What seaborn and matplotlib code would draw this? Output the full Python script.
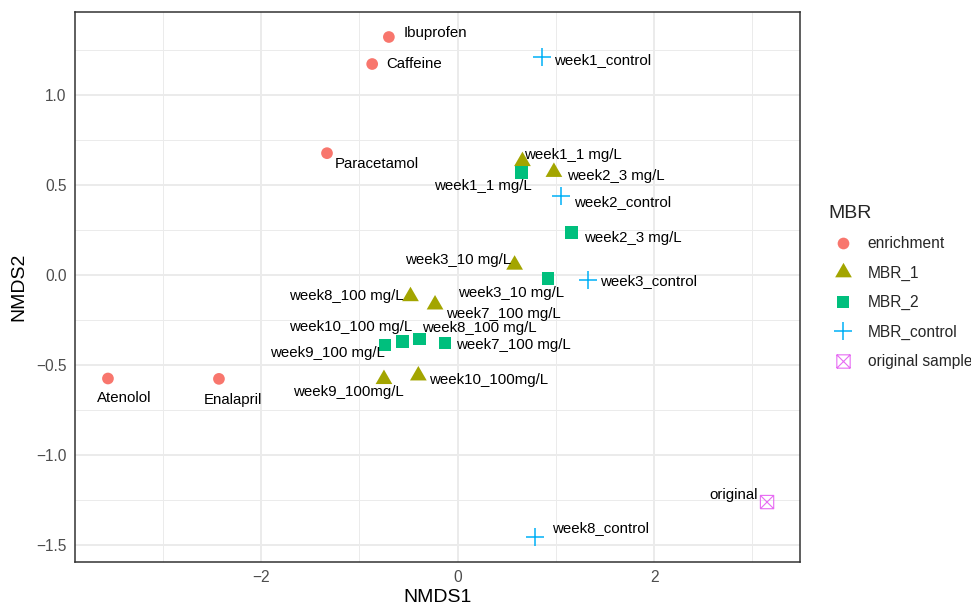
import matplotlib

matplotlib.use("Agg")
import matplotlib.pyplot as plt
import numpy as np
import pandas as pd
import seaborn as sns
from matplotlib.lines import Line2D
from matplotlib.markers import MarkerStyle
from matplotlib.path import Path
from matplotlib.ticker import FixedLocator

# --- data ---
groups = ["enrichment", "MBR_1", "MBR_2", "MBR_control", "original sample"]
colors = ["#F8766D", "#A3A500", "#00BF7D", "#00B0F6", "#E76BF3"]

enrich_names = ["Ibuprofen", "Caffeine", "Paracetamol", "Atenolol", "Enalapril"]
enrich_x = [-0.70, -0.87, -1.33, -3.56, -2.43]
enrich_y = [1.32, 1.17, 0.675, -0.576, -0.578]

mbr1_names = ["week1_1 mg/L", "week2_3 mg/L", "week3_10 mg/L", "week8_100 mg/L",
              "week7_100 mg/L", "week9_100mg/L", "week10_100mg/L"]
mbr1_x = [0.66, 0.98, 0.58, -0.48, -0.23, -0.75, -0.40]
mbr1_y = [0.63, 0.57, 0.055, -0.12, -0.166, -0.58, -0.56]

mbr2_names = ["week1_1 mg/L", "week2_3 mg/L", "week3_10 mg/L", "week9_100 mg/L",
              "week10_100 mg/L", "week8_100 mg/L", "week7_100 mg/L"]
mbr2_x = [0.65, 1.16, 0.92, -0.74, -0.56, -0.39, -0.13]
mbr2_y = [0.567, 0.235, -0.022, -0.39, -0.37, -0.357, -0.38]

ctrl_names = ["week1_control", "week2_control", "week3_control", "week8_control"]
ctrl_x = [0.86, 1.05, 1.33, 0.785]
ctrl_y = [1.21, 0.44, -0.03, -1.456]

orig_names = ["original"]
orig_x = [3.15]
orig_y = [-1.262]

# label placement (pixel offsets from the point, alignment), same order as names
label_layout = {
    "enrichment": [(15, 4, "left"), (14, 0, "left"), (8, -11, "left"),
                   (16, -20, "center"), (14, -21, "center")],
    "MBR_1": [(2, 6, "left"), (13, -4, "left"), (-3, 5, "right"), (-7, 0, "right"),
              (11, -9, "left"), (20, -13, "right"), (11, -4, "left")],
    "MBR_2": [(10, -13, "right"), (12, -6, "left"), (16, -14, "right"), (0, -8, "right"),
              (10, 14, "right"), (3, 11, "left"), (11, -2, "left")],
    "MBR_control": [(12, -3, "left"), (13, -7, "left"), (12, -1, "left"), (17, 9, "left")],
    "original sample": [(-9, 7, "right")],
}

frames = []
for g, names, xs, ys in zip(
    groups,
    [enrich_names, mbr1_names, mbr2_names, ctrl_names, orig_names],
    [enrich_x, mbr1_x, mbr2_x, ctrl_x, orig_x],
    [enrich_y, mbr1_y, mbr2_y, ctrl_y, orig_y],
):
    frames.append(pd.DataFrame({"label": names, "NMDS1": xs, "NMDS2": ys, "MBR": g}))
df = pd.concat(frames, ignore_index=True)

# --- markers mimicking ggplot shapes 16, 17, 15, 3, 7 ---
tri = [(0, 0.577), (-0.5, -0.289), (0.5, -0.289)]
box_x_path = Path(
    [(-1, -1), (1, -1), (1, 1), (-1, 1), (-1, -1), (-1, -1), (1, 1), (-1, 1), (1, -1)],
    [Path.MOVETO, Path.LINETO, Path.LINETO, Path.LINETO, Path.LINETO,
     Path.MOVETO, Path.LINETO, Path.MOVETO, Path.LINETO],
)
box_x = MarkerStyle(box_x_path, fillstyle="none")

markers = ["o", tri, "s", "+", box_x]
sizes = [71, 193, 81, 169, 92]
line_widths = [0, 0, 0, 1.1, 0.8]

sns.set_theme(style="white")
plt.rcParams["font.family"] = ["Liberation Sans", "DejaVu Sans"]

fig = plt.figure(figsize=(9.71, 6.05), dpi=100)
ax = fig.add_axes([75 / 971, 1 - 562 / 605, 725 / 971, 550 / 605])

for g, col, m, s, lw in zip(groups, colors, markers, sizes, line_widths):
    sub = df[df["MBR"] == g]
    kws = dict(marker=m, s=s, color=col, linewidth=lw, legend=False, ax=ax, zorder=3)
    if lw == 0:
        kws["edgecolor"] = "none"
    sns.scatterplot(data=sub, x="NMDS1", y="NMDS2", **kws)
    for (_, row), (dx, dy, ha) in zip(sub.iterrows(), label_layout[g]):
        ax.annotate(row["label"], (row["NMDS1"], row["NMDS2"]), xytext=(dx, dy),
                    textcoords="offset pixels", ha=ha, va="center",
                    fontsize=10.8, color="black", zorder=4)

# ggplot-style 5% expansion
xr = df["NMDS1"].max() - df["NMDS1"].min()
yr = df["NMDS2"].max() - df["NMDS2"].min()
ax.set_xlim(df["NMDS1"].min() - 0.05 * xr, df["NMDS1"].max() + 0.05 * xr)
ax.set_ylim(df["NMDS2"].min() - 0.05 * yr, df["NMDS2"].max() + 0.05 * yr)

ax.xaxis.set_major_locator(FixedLocator([-2, 0, 2]))
ax.xaxis.set_minor_locator(FixedLocator([-3, -1, 1, 3]))
ax.yaxis.set_major_locator(FixedLocator([-1.5, -1.0, -0.5, 0.0, 0.5, 1.0]))
ax.yaxis.set_minor_locator(FixedLocator([-1.25, -0.75, -0.25, 0.25, 0.75, 1.25]))

ax.grid(which="major", color="#EBEBEB", linewidth=1.4, zorder=0)
ax.grid(which="minor", color="#EBEBEB", linewidth=0.7, zorder=0)
ax.set_axisbelow(True)
for sp in ax.spines.values():
    sp.set_color("#333333")
    sp.set_linewidth(1.1)
ax.tick_params(which="major", length=3.5, width=1.0, color="#333333",
               labelsize=11.2, labelcolor="#4D4D4D", pad=2.5)
ax.tick_params(which="minor", length=0)

ax.set_xlabel("NMDS1", fontsize=14, color="black", labelpad=3)
ax.set_ylabel("NMDS2", fontsize=14, color="black", labelpad=6)

handles = []
for g, col, m, s, lw in zip(groups, colors, markers, sizes, line_widths):
    h = Line2D([], [], linestyle="none", marker=m, markersize=np.sqrt(s), color=col,
               markeredgewidth=lw if lw else 0)
    handles.append(h)
leg = fig.legend(handles, groups, title="MBR", loc="center left",
                 bbox_to_anchor=(821 / 971, 1 - 287 / 605), frameon=False,
                 fontsize=11.2, title_fontsize=14, borderpad=0, handlelength=1.8,
                 handletextpad=0.7, labelspacing=0.93, alignment="left")

fig.savefig("out.png", dpi=100)
